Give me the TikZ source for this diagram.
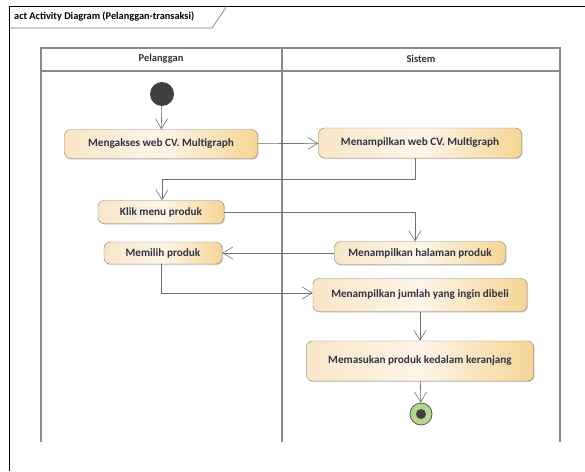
\documentclass[tikz,border=0pt]{standalone}
\usepackage{fontspec}
\setmainfont{Carlito}
\usepackage{tikz}
\usetikzlibrary{arrows.meta,shadows}
\definecolor{actLeft}{HTML}{F8E6C8}
\definecolor{actMid}{HTML}{FDF5E8}
\definecolor{actRight}{HTML}{F6D596}
\definecolor{actBorder}{HTML}{8C7B62}
\definecolor{actText}{HTML}{30343F}
\definecolor{laneLine}{HTML}{8A8A8A}
\definecolor{flowLine}{HTML}{707070}
\definecolor{endGreen}{HTML}{B6D88C}

\begin{document}
\begin{tikzpicture}[x=1pt,y=-1pt,font=\bfseries\fontsize{11.2}{13}\selectfont,
action/.style={draw=actBorder, rounded corners=6pt, left color=actLeft, right color=actRight,
    middle color=actMid, text=actText, inner sep=0pt, anchor=center,
    drop shadow={shadow xshift=1pt, shadow yshift=-1pt, fill=black!35, opacity=.5}},
flow/.style={draw=flowLine, line width=0.6pt, -{Straight Barb[length=10pt,width=12pt]}},
lane/.style={draw=laneLine, line width=1.1pt},
lanehead/.style={text=actText, font=\bfseries\fontsize{10.5}{12}\selectfont}]
\useasboundingbox (0,0) rectangle (585,471);
% frame
\draw[line width=0.8pt] (9,471) -- (9,6) -- (585,6);
\draw[draw=black!55, line width=0.6pt] (9,28) -- (212,28) -- (227,6);
\node[anchor=west, inner sep=0pt, font=\bfseries\fontsize{10.3}{12}\selectfont] (frame-title) at (14,17) {act Activity Diagram (Pelanggan-transaksi)};
% swimlanes (open at the bottom)
\draw[lane] (41,442) -- (41,48) -- (560,48) -- (560,442);
\draw[lane] (41,71) -- (560,71);
\draw[lane] (282,48) -- (282,442);
\node[lanehead] (lane-pel) at (161,59) {Pelanggan};
\node[lanehead] (lane-sis) at (421,59) {Sistem};
% nodes
\node[circle, fill=black!75, minimum size=24pt, inner sep=0pt] (start) at (162,94) {};
\node[action, minimum width=193pt, minimum height=29pt] (akses) at (161,144) {Mengakses web CV. Multigraph};
\node[action, minimum width=203pt, minimum height=30pt] (tampilweb) at (420,143) {Menampilkan web CV. Multigraph};
\node[action, minimum width=126pt, minimum height=23pt] (klik) at (161,212) {Klik menu produk};
\node[action, minimum width=118pt, minimum height=22pt] (pilih) at (163,253) {Memilih produk};
\node[action, minimum width=171pt, minimum height=23pt] (halaman) at (420,253) {Menampilkan halaman produk};
\node[action, minimum width=214pt, minimum height=33pt] (jumlah) at (420,295) {Menampilkan jumlah yang ingin dibeli};
\node[action, minimum width=227pt, minimum height=40pt] (keranjang) at (420,361) {Memasukan produk kedalam keranjang};
\node[circle, draw=black!65, line width=0.8pt, fill=endGreen, minimum size=22pt, inner sep=0pt] (end) at (421,414) {};
\fill[black!75] (end.center) circle (5pt);
% flows
\draw[flow] (start) -- (akses);
\draw[flow] (akses) -- (tampilweb);
\draw[flow] (tampilweb.south -| 415,0) -- (415,179) -- (162,179) -- (klik.north -| 162,0);
\draw[flow] (klik) -- (klik.east -| 415,0) -- (halaman.north -| 415,0);
\draw[flow] (halaman) -- (pilih);
\draw[flow] (pilih.south -| 161,0) -- (161,293) -- (jumlah.west |- 0,293);
\draw[flow] (jumlah) -- (keranjang);
\draw[flow] (keranjang) -- (end);
\end{tikzpicture}
\end{document}
